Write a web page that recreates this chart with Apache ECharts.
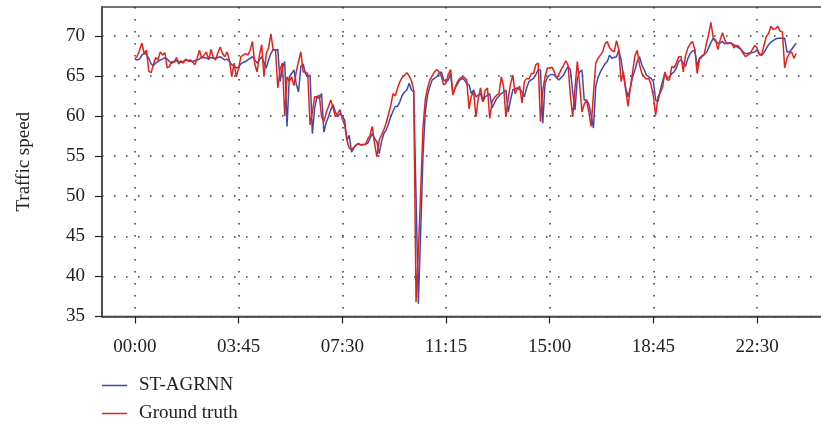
<!DOCTYPE html>
<html>
<head>
<meta charset="utf-8">
<script src="https://cdn.jsdelivr.net/npm/echarts@6/dist/echarts.min.js"></script>
<style>html,body{margin:0;padding:0;background:#fff;}#c{width:821px;height:425px;}</style>
</head>
<body>
<div id="c"></div>
<script>
// 5-minute steps over one day (index 0 = 00:00)
const tickIndices = [0, 45, 90, 135, 180, 225, 270];
const tickLabels = ['00:00', '03:45', '07:30', '11:15', '15:00', '18:45', '22:30'];
const yTicks = [35, 40, 45, 50, 55, 60, 65, 70];
const seriesNames = ['ST-AGRNN', 'Ground truth'];

const groundTruth = [
67.1,67.5,68.2,69.1,67.8,68.2,65.6,65.4,66.4,67.3,
67.0,68.0,67.6,67.9,66.0,66.2,66.8,66.7,67.3,66.5,
66.9,66.6,67.1,66.9,67.0,66.8,66.4,67.2,68.2,67.2,
67.6,68.0,67.0,68.3,67.3,67.0,67.9,68.6,67.8,67.4,
68.0,67.0,64.9,66.6,64.9,66.0,67.4,67.6,67.8,67.6,
68.2,69.3,66.5,65.5,67.5,68.9,64.9,67.8,68.5,70.25,
68.25,68.3,63.5,65.8,66.6,60.0,64.9,64.3,64.9,63.8,
65.5,66.8,68.0,65.5,65.5,65.3,58.9,60.5,62.4,62.4,
62.6,59.9,59.3,60.4,61.2,62.0,61.0,59.9,60.3,60.8,
59.6,58.9,57.0,56.0,55.8,56.1,56.4,56.6,56.4,56.5,
56.4,57.1,57.6,58.7,56.6,54.9,57.0,57.6,58.3,59.1,
60.2,61.3,62.8,62.5,63.5,64.3,64.8,65.1,65.4,65.0,
64.4,63.2,36.8,43.0,50.5,58.5,62.0,63.5,64.5,65.0,
65.5,65.8,65.5,64.9,63.9,64.1,65.2,65.8,62.6,63.6,
64.3,64.7,64.9,64.8,64.5,60.9,62.5,63.0,59.9,62.2,
63.5,61.8,63.2,63.5,59.7,61.8,62.3,62.6,62.8,64.9,
63.7,59.9,62.2,64.0,65.1,62.8,63.4,63.7,61.6,64.3,
64.7,64.6,65.3,65.3,66.4,66.6,59.3,63.2,64.9,66.0,
66.0,66.1,65.5,64.7,65.2,65.8,66.3,66.9,66.3,62.5,
59.9,63.5,66.8,64.0,60.5,61.5,62.0,60.5,58.7,62.8,
66.6,67.2,67.6,68.0,69.0,69.3,68.5,68.2,68.0,69.4,
68.3,64.3,65.5,63.2,61.2,63.5,65.5,67.5,68.2,66.4,
65.3,64.9,64.6,64.7,63.9,62.5,60.1,62.4,62.9,63.6,
65.5,64.5,64.5,66.2,66.0,66.6,67.4,67.4,65.5,67.6,
68.5,69.0,69.3,68.3,65.3,67.0,67.4,67.6,69.0,70.2,
71.7,69.7,69.5,68.3,69.5,70.4,69.5,69.0,69.1,69.1,
68.5,68.8,68.7,68.3,67.8,67.4,67.6,67.8,68.3,68.8,
68.5,67.6,67.6,68.8,69.9,70.3,71.2,70.8,70.9,71.2,
70.6,70.5,66.0,67.2,67.8,68.0,67.2,67.8
];

const stAgrnn = [
67.1,67.0,67.1,67.6,67.8,67.7,67.2,66.5,66.3,66.6,
66.8,67.0,67.1,67.3,67.1,66.8,66.6,66.8,66.9,66.8,
66.7,66.8,67.0,66.9,66.8,66.8,66.9,67.0,67.1,67.4,
67.3,67.2,67.2,67.3,67.2,67.2,67.3,67.4,67.2,67.0,
67.1,66.8,66.4,66.3,66.0,66.1,66.5,66.7,66.8,67.0,
67.2,67.4,67.0,66.6,67.0,67.4,66.7,66.0,67.0,67.8,
68.3,68.2,68.3,64.3,66.0,66.8,58.7,64.9,65.3,65.75,
64.0,63.0,66.2,66.5,65.3,64.9,65.1,57.8,61.0,62.4,
62.2,62.8,58.0,59.2,59.9,60.8,61.4,60.5,59.9,60.3,
60.0,59.5,57.0,57.6,55.5,56.0,56.4,56.5,56.4,56.4,
56.5,56.6,57.2,57.8,57.2,56.8,55.3,56.8,57.8,58.25,
59.0,59.9,60.6,61.2,61.2,61.8,62.6,63.0,63.25,64.1,
63.25,63.0,50.0,36.6,45.5,55.0,60.5,62.6,63.7,64.5,
64.7,64.9,65.3,65.5,64.5,64.3,64.5,65.3,62.8,63.5,
64.0,64.5,64.7,64.5,64.0,63.9,62.8,63.25,62.4,62.6,
62.8,61.8,62.4,62.6,62.8,61.0,61.6,62.2,62.5,62.8,
63.0,63.25,60.5,62.0,63.25,63.4,63.5,63.3,63.0,62.4,
63.5,64.3,64.5,64.7,65.2,65.75,65.75,59.1,64.1,64.8,
65.1,65.2,65.1,64.8,64.5,64.8,65.1,65.7,66.2,65.75,
63.0,60.75,64.7,65.5,65.75,62.0,62.0,61.5,60.1,58.5,
63.7,64.8,65.5,66.0,66.5,66.8,67.6,67.2,67.3,67.4,
68.25,67.0,65.1,63.5,62.4,63.5,64.9,65.75,66.8,67.4,
66.4,65.8,65.1,64.9,64.7,64.3,62.0,61.8,63.25,64.3,
65.3,64.7,64.9,65.3,65.5,66.0,66.8,67.0,66.6,66.2,
67.2,67.8,68.1,68.25,66.2,67.2,67.5,67.7,67.9,68.5,
69.2,69.7,69.3,69.1,69.1,69.3,69.0,69.1,69.1,69.0,
68.9,68.7,68.5,68.3,68.0,67.8,67.8,67.9,67.9,68.0,
68.25,67.8,67.6,67.9,68.4,68.9,69.2,69.4,69.6,69.7,
69.7,69.7,69.7,68.0,68.0,68.3,68.7,69.1
];

const FONT = 'Liberation Serif';
const chart = echarts.init(document.getElementById('c'), null, {renderer: 'canvas'});
const dotted = {color: '#333', width: 1.5, type: [1.5, 10.5]};

chart.setOption({
  animation: false,
  backgroundColor: '#fff',
  grid: {left: 102, top: 7, width: 729, height: 309.5, outerBoundsMode: 'none', containLabel: false,
         show: true, borderColor: '#444', borderWidth: 1.5, backgroundColor: 'transparent'},
  legend: {
    orient: 'vertical', left: 102, top: 376, padding: 0,
    icon: 'rect', itemWidth: 25, itemHeight: 1.5, itemGap: 9,
    data: seriesNames,
    textStyle: {fontFamily: FONT, fontSize: 19, color: '#222', padding: [0, 0, 0, 7]}
  },
  xAxis: {
    type: 'value', min: -14.3, max: 302.1,
    axisLine: {show: true, onZero: false, lineStyle: {color: '#444', width: 1.5}},
    axisTick: {show: true, length: 7, lineStyle: {color: '#222', width: 1.2}, customValues: tickIndices},
    axisLabel: {
      customValues: tickIndices, margin: 21,
      fontFamily: FONT, fontSize: 19, color: '#222',
      formatter: v => { const k = tickIndices.indexOf(Math.round(v)); return k >= 0 ? tickLabels[k] : ''; }
    },
    splitLine: {show: true, lineStyle: dotted}
  },
  yAxis: {
    type: 'value', min: 35, max: 73.6, interval: 5,
    name: 'Traffic speed', nameLocation: 'middle', nameGap: 68,
    nameTextStyle: {fontFamily: FONT, fontSize: 19, color: '#222'},
    axisLine: {show: true, onZero: false, lineStyle: {color: '#444', width: 1.5}},
    axisTick: {show: true, length: 7, lineStyle: {color: '#222', width: 1.2}, customValues: yTicks},
    axisLabel: {customValues: yTicks, margin: 17, fontFamily: FONT, fontSize: 19, color: '#222',
      formatter: v => String(v)},
    splitLine: {show: true, lineStyle: dotted}
  },
  series: [
    {name: seriesNames[0], type: 'line', symbol: 'none', data: stAgrnn.map((v, i) => [i, v]),
     lineStyle: {color: '#3c4ab5', width: 1.5}, itemStyle: {color: '#3c4ab5'}},
    {name: seriesNames[1], type: 'line', symbol: 'none', data: groundTruth.map((v, i) => [i, v]),
     lineStyle: {color: '#e3231b', width: 1.5}, itemStyle: {color: '#e3231b'}}
  ]
});
</script>
</body>
</html>
